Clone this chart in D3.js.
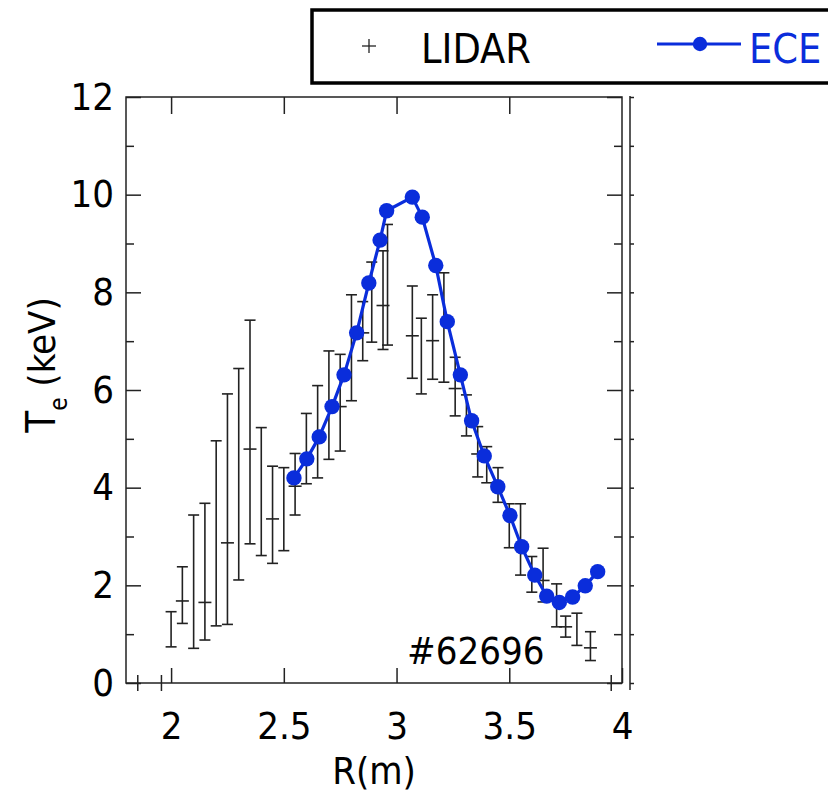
<!DOCTYPE html>
<html>
<head>
<meta charset="utf-8">
<script src="https://cdn.jsdelivr.net/npm/d3@7"></script>
<style>
  html, body { margin: 0; padding: 0; background: #fff; }
  svg { display: block; }
  text { font-family: "DejaVu Sans Condensed", "DejaVu Sans", sans-serif; font-stretch: condensed; }
</style>
</head>
<body>
<svg id="chart" width="828" height="793"></svg>
<script>
// ---------------- data ----------------
const lidarR    = [2.00, 2.05, 2.10, 2.15, 2.20, 2.25, 2.30, 2.35, 2.40, 2.45, 2.50, 2.55, 2.60, 2.65, 2.70, 2.75, 2.80, 2.85, 2.89, 2.94, 2.96, 3.07, 3.11, 3.16, 3.21, 3.26, 3.31, 3.36, 3.40, 3.45, 3.50, 3.55, 3.60, 3.65, 3.71, 3.75, 3.80, 3.86];
const lidarHigh = [1.46, 2.38, 3.44, 3.68, 4.96, 5.92, 6.44, 7.43, 5.23, 4.44, 4.41, 4.70, 5.52, 6.09, 6.80, 6.73, 7.95, 7.81, 8.62, 8.85, 9.39, 8.13, 7.47, 7.95, 8.40, 6.67, 5.90, 5.25, 4.84, 4.41, 3.67, 3.67, 2.59, 2.76, 2.03, 1.37, 1.43, 1.05];
const lidarLow  = [0.74, 1.22, 0.71, 0.88, 1.17, 1.20, 2.11, 2.85, 2.61, 2.45, 2.71, 3.44, 4.08, 4.20, 4.58, 4.75, 5.78, 6.60, 6.98, 6.83, 6.92, 6.24, 5.92, 6.22, 6.16, 5.47, 5.06, 4.22, 4.10, 3.70, 2.77, 2.21, 1.86, 1.66, 1.15, 0.94, 0.77, 0.46];
const lidarT    = [null, 1.68, null, 1.65, null, 2.87, null, 4.79, null, 3.36, null, 4.03, null, null, null, 5.66, null, 7.17, null, 7.73, null, 7.11, null, 7.01, null, 6.03, null, 4.69, null, null, null, null, null, 2.10, null, 1.15, null, 0.72];

const eceR = [2.545, 2.602, 2.657, 2.714, 2.767, 2.823, 2.877, 2.927, 2.956, 3.070, 3.114, 3.174, 3.225, 3.283, 3.333, 3.389, 3.449, 3.503, 3.555, 3.613, 3.666, 3.722, 3.781, 3.837, 3.892];
const eceT = [4.20, 4.59, 5.04, 5.66, 6.31, 7.17, 8.19, 9.07, 9.67, 9.95, 9.54, 8.55, 7.40, 6.31, 5.37, 4.65, 4.02, 3.43, 2.79, 2.21, 1.78, 1.65, 1.76, 1.99, 2.28];

const xTickValues = [2, 2.5, 3, 3.5, 4];
const xTopTicks = [2, 2.5, 3, 3.5];
const xBottomExtraTicks = [1.85, 1.955, 3.95];
const yMajorTicks = [0, 2, 4, 6, 8, 10, 12];
const yMinorTicks = [1, 3, 5, 7, 9, 11];
const seriesNames = ["LIDAR", "ECE"];
const xTitle = "R(m)";
const shotLabel = "#62696";

// ---------------- drawing ----------------
const BLUE = "#0a2ddb";
const INK = "#222";
const svg = d3.select("#chart");
svg.append("rect").attr("width", 828).attr("height", 793).attr("fill", "#fff");

const x = d3.scaleLinear().domain([1.8, 4]).range([126, 622]);
const y = d3.scaleLinear().domain([0, 12]).range([683, 97]);

const fmt = d3.format("~g");

function styleAxis(g) {
  g.select(".domain").remove();
  g.selectAll(".tick line").attr("stroke", INK).attr("stroke-width", 1.5);
  g.selectAll("text").attr("fill", "#000").attr("font-size", 38)
   .attr("font-family", '"DejaVu Sans Condensed", "DejaVu Sans", sans-serif');
}

// left axis: majors with labels
svg.append("g").attr("transform", `translate(${x(1.8)},0)`)
  .call(d3.axisLeft(y).tickValues(yMajorTicks).tickSize(-15).tickPadding(12).tickFormat(fmt))
  .call(styleAxis);
svg.append("g").attr("transform", `translate(${x(1.8)},0)`)
  .call(d3.axisLeft(y).tickValues(yMinorTicks).tickSize(-8).tickFormat(""))
  .call(styleAxis);
// right axis (inside ticks)
svg.append("g").attr("transform", `translate(${x(4)},0)`)
  .call(d3.axisRight(y).tickValues(yMajorTicks).tickSize(-15).tickFormat(""))
  .call(styleAxis);
svg.append("g").attr("transform", `translate(${x(4)},0)`)
  .call(d3.axisRight(y).tickValues(yMinorTicks).tickSize(-8).tickFormat(""))
  .call(styleAxis);
// second thin right line with small outward ticks
svg.append("line").attr("x1", 630).attr("x2", 630).attr("y1", 96).attr("y2", 690)
  .attr("stroke", INK).attr("stroke-width", 1.5);
svg.append("g").attr("transform", `translate(630,0)`)
  .call(d3.axisRight(y).tickValues(yMajorTicks.concat(yMinorTicks)).tickSize(4).tickFormat(""))
  .call(styleAxis);
// top axis
svg.append("g").attr("transform", `translate(0,${y(12)})`)
  .call(d3.axisTop(x).tickValues(xTopTicks).tickSize(-17).tickFormat(""))
  .call(styleAxis);
// bottom axis with labels
svg.append("g").attr("transform", `translate(0,${y(0)})`)
  .call(d3.axisBottom(x).tickValues(xTickValues).tickSize(-15).tickPadding(29).tickFormat(fmt))
  .call(styleAxis);
// stray crossing ticks on bottom
svg.append("g").attr("transform", `translate(0,${y(0)})`)
  .call(d3.axisBottom(x).tickValues(xBottomExtraTicks).tickSize(8).tickFormat(""))
  .call(styleAxis)
  .selectAll(".tick line").attr("y1", -8);

// frame
svg.append("rect").attr("x", x(1.8)).attr("y", y(12))
  .attr("width", x(4) - x(1.8)).attr("height", y(0) - y(12))
  .attr("fill", "none").attr("stroke", INK).attr("stroke-width", 1.5);

// axis titles
svg.append("text").attr("x", (x(1.8) + x(4)) / 2).attr("y", 784)
  .attr("text-anchor", "middle").attr("font-size", 38).attr("fill", "#000").text(xTitle);

const yt = svg.append("text").attr("transform", "translate(55,365) rotate(-90)")
  .attr("text-anchor", "middle").attr("font-size", 38).attr("fill", "#000");
yt.append("tspan").attr("font-size", 40).text("T");
yt.append("tspan").attr("font-size", 24).attr("dy", 12).text("e");
yt.append("tspan").attr("dy", -12).text(" (keV)");

// LIDAR error bars
const lidar = lidarR.map((r, i) => ({ r, hi: lidarHigh[i], lo: lidarLow[i], t: lidarT[i] }));
const eb = svg.append("g").attr("stroke", INK).attr("stroke-width", 1.6);
const capW = 5.5;
lidar.forEach(d => {
  const cx = x(d.r);
  eb.append("line").attr("x1", cx).attr("x2", cx).attr("y1", y(d.hi)).attr("y2", y(d.lo));
  eb.append("line").attr("x1", cx - capW).attr("x2", cx + capW).attr("y1", y(d.hi)).attr("y2", y(d.hi));
  eb.append("line").attr("x1", cx - capW).attr("x2", cx + capW).attr("y1", y(d.lo)).attr("y2", y(d.lo));
  if (d.t !== null) {
    eb.append("line").attr("x1", cx - 6.5).attr("x2", cx + 6.5).attr("y1", y(d.t)).attr("y2", y(d.t));
  }
});

// ECE line + dots
const ece = eceR.map((r, i) => ({ r, t: eceT[i] }));
svg.append("path").datum(ece)
  .attr("d", d3.line().x(d => x(d.r)).y(d => y(d.t)))
  .attr("fill", "none").attr("stroke", BLUE).attr("stroke-width", 3.2).attr("stroke-linejoin", "round");
svg.append("g").selectAll("circle").data(ece).join("circle")
  .attr("cx", d => x(d.r)).attr("cy", d => y(d.t)).attr("r", 7.7).attr("fill", BLUE);

// shot number
svg.append("text").attr("x", 407).attr("y", 664).attr("font-size", 38).attr("fill", "#000").text(shotLabel);

// legend
const lg = svg.append("g");
lg.append("rect").attr("x", 312).attr("y", 10).attr("width", 540).attr("height", 73)
  .attr("fill", "#fff").attr("stroke", "#000").attr("stroke-width", 3.5);
lg.append("line").attr("x1", 362).attr("x2", 376).attr("y1", 46).attr("y2", 46).attr("stroke", INK).attr("stroke-width", 1.3);
lg.append("line").attr("x1", 369).attr("x2", 369).attr("y1", 39).attr("y2", 53).attr("stroke", INK).attr("stroke-width", 1.3);
lg.append("text").attr("x", 421).attr("y", 63).attr("font-size", 41).attr("fill", "#000").text(seriesNames[0]);
lg.append("line").attr("x1", 657).attr("x2", 741).attr("y1", 44).attr("y2", 44).attr("stroke", BLUE).attr("stroke-width", 3);
lg.append("circle").attr("cx", 700).attr("cy", 44).attr("r", 7.2).attr("fill", BLUE);
lg.append("text").attr("x", 749).attr("y", 63).attr("font-size", 41).attr("fill", BLUE).text(seriesNames[1]);
</script>
</body>
</html>
